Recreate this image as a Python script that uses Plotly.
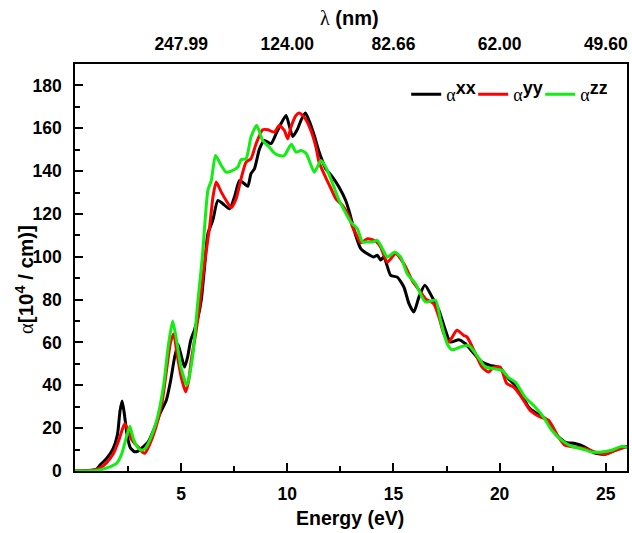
import plotly.graph_objects as go

# ---- data ----
e_xx = [0, 0.6, 1.0, 1.2, 1.5, 1.8, 2.0, 2.12, 2.22, 2.32, 2.45, 2.6, 2.8, 2.95, 3.13, 3.44, 3.7, 4.0, 4.3, 4.5, 4.69, 4.85, 5.0, 5.16, 5.3, 5.45, 5.63, 5.8, 5.95, 6.1, 6.26, 6.49, 6.73, 6.96, 7.28, 7.51, 7.75, 7.98, 8.14, 8.29, 8.45, 8.69, 8.92, 9.23, 9.47, 9.7, 9.94, 10.09, 10.25, 10.49, 10.64, 10.85, 11.05, 11.27, 11.5, 11.81, 12.13, 12.44, 12.75, 12.95, 13.15, 13.46, 13.77, 14.08, 14.24, 14.4, 14.55, 14.87, 15.18, 15.49, 15.73, 15.96, 16.2, 16.48, 16.82, 17.14, 17.45, 17.68, 18.08, 18.39, 18.86, 19.17, 19.56, 19.95, 20.19, 20.42, 20.89, 21.36, 21.75, 22.15, 22.61, 23.08, 23.55, 24.02, 24.49, 24.96, 25.43, 25.9, 26.0]
a_xx = [0, 0.2, 0.8, 3, 6, 10.6, 17, 28, 32.7, 27, 17, 11, 9, 9.2, 10.6, 13.5, 19, 26.8, 33, 42, 53, 59, 54, 48.5, 53, 61, 66, 72, 80, 95, 110.8, 117, 126.3, 124.8, 122.4, 127.9, 135.6, 134.1, 132.9, 138.8, 141, 150.4, 154.3, 152.8, 157.4, 162.1, 166, 161.3, 156.2, 159.8, 163.6, 167.1, 163, 156.6, 148.9, 141.1, 137.2, 132.5, 126.3, 120, 112.3, 103.8, 101.4, 99.9, 100.7, 98.5, 99.9, 91.3, 90.5, 85.9, 78.1, 74.2, 81.2, 86.7, 81.2, 75, 65.7, 60.2, 61.3, 59.4, 54, 50.9, 49.3, 48.5, 46.2, 43.1, 38.5, 29.9, 26.8, 24.5, 17.5, 13.5, 12.8, 11.2, 8.4, 7.8, 9.7, 11.2, 11.3]

e_yy = [0, 0.8, 1.2, 1.5, 1.8, 2.05, 2.25, 2.35, 2.5, 2.65, 2.8, 3.0, 3.15, 3.29, 3.5, 3.8, 4.1, 4.35, 4.5, 4.65, 4.8, 5.0, 5.21, 5.35, 5.48, 5.7, 5.9, 6.1, 6.34, 6.5, 6.65, 6.89, 7.12, 7.36, 7.59, 7.82, 8.06, 8.29, 8.53, 8.84, 9.08, 9.39, 9.62, 9.86, 10.02, 10.17, 10.41, 10.56, 10.8, 11.11, 11.35, 11.5, 11.81, 12.05, 12.29, 12.6, 12.9, 13.07, 13.23, 13.46, 13.77, 14.0, 14.2, 14.4, 14.71, 15.1, 15.49, 15.88, 16.28, 16.51, 16.9, 17.14, 17.37, 17.6, 17.99, 18.31, 18.47, 18.86, 19.17, 19.48, 19.72, 20.03, 20.34, 20.66, 21.0, 21.44, 21.91, 22.3, 22.77, 23.08, 23.55, 24.0, 24.49, 24.96, 25.43, 26.0]
a_yy = [0, 0.2, 1.5, 4, 8, 14, 20, 22, 19, 15, 13, 11, 9, 8.3, 12, 20, 32, 50, 60, 64, 55, 44, 36.9, 42, 52, 65, 79.6, 97, 113.9, 128, 134.9, 130.2, 126.3, 122.9, 127.1, 136.4, 144.2, 145.8, 152.8, 159.3, 159.3, 158.2, 161.3, 159, 155.1, 160.5, 166, 167.1, 165.2, 159, 151.2, 144, 137, 132, 127, 124, 119, 113.9, 110.8, 106.5, 108.4, 108, 107, 104.5, 97.5, 101.4, 96.8, 89, 83.5, 80.4, 78.1, 71.9, 64.1, 60.2, 65.7, 63.3, 62.5, 54.8, 48.5, 46.2, 48.5, 48.5, 40.8, 39.2, 35, 28.3, 25.2, 23.7, 15.9, 12, 11.2, 10.5, 8.9, 7.8, 9.5, 11.5]

e_zz = [0, 1.0, 1.5, 1.96, 2.2, 2.4, 2.58, 2.75, 2.95, 3.13, 3.3, 3.5, 3.8, 4.0, 4.2, 4.39, 4.6, 4.8, 5.0, 5.27, 5.4, 5.56, 5.79, 6.0, 6.26, 6.42, 6.62, 6.89, 7.12, 7.36, 7.67, 7.82, 8.06, 8.29, 8.56, 8.84, 9.15, 9.39, 9.62, 9.86, 10.09, 10.2, 10.41, 10.64, 10.88, 11.03, 11.27, 11.42, 11.58, 11.81, 12.2, 12.44, 12.6, 12.99, 13.3, 13.54, 13.77, 14.0, 14.24, 14.48, 14.71, 15.07, 15.34, 15.65, 16.04, 16.51, 16.98, 17.22, 17.53, 17.76, 18.15, 18.54, 18.93, 19.33, 19.72, 20.11, 20.42, 20.74, 21.2, 21.67, 22.07, 22.46, 22.93, 23.4, 23.86, 24.33, 24.8, 25.27, 25.74, 26.0]
a_zz = [0, 0.2, 1.5, 3.6, 8, 15, 20.9, 15, 11, 9.7, 10.5, 14, 22, 30, 42, 58, 70, 60, 48, 40, 45, 55, 79.5, 100, 131, 135.6, 147.3, 142.6, 139.5, 140, 141.9, 145.3, 145.8, 155.9, 161.3, 154.3, 151.2, 148.4, 147.3, 147.3, 151.2, 152.5, 148.9, 149.6, 148.4, 145, 139.5, 142, 145, 141.9, 132.5, 126.3, 123.2, 116.2, 113.1, 106.9, 106.9, 106.9, 107.7, 103.8, 99.9, 102.2, 99.9, 92.1, 87.4, 78.9, 79.7, 70.3, 59.4, 56.6, 57.9, 58.6, 54, 48.5, 47.8, 47, 43.6, 41.5, 34.5, 29.9, 25.2, 19, 14.3, 11.5, 10.4, 8.9, 8.9, 9.7, 11.5, 11]

x_ticks = [5, 10, 15, 20, 25]
top_labels = ["247.99", "124.00", "82.66", "62.00", "49.60"]
y_ticks = [0, 20, 40, 60, 80, 100, 120, 140, 160, 180]

FONT = "Liberation Sans, Arial, sans-serif"

def lname(s):
    return ('<span style="font-family:Liberation Serif">α</span>'
            '<sup><span style="font-size:18px"><b>' + s + '</b></span></sup>')

fig = go.Figure()
for e, a, c, s in [(e_xx, a_xx, "#000000", "xx"), (e_yy, a_yy, "#ff0000", "yy"), (e_zz, a_zz, "#11ee11", "zz")]:
    fig.add_trace(go.Scatter(x=e, y=a, mode="lines", name=lname(s),
                             line=dict(color=c, width=3, shape="spline", smoothing=0.6)))

# invisible trace for the top axis
fig.add_trace(go.Scatter(x=[0, 26], y=[None, None], xaxis="x2", showlegend=False, hoverinfo="skip"))

axis_common = dict(showgrid=False, zeroline=False, linecolor="black", linewidth=1.5,
                   tickfont=dict(family=FONT, size=17.5, color="black", weight="bold"))

fig.update_layout(
    width=632, height=533,
    margin=dict(l=75, r=3, t=64, b=62),
    plot_bgcolor="white", paper_bgcolor="white",
    xaxis=dict(range=[0, 26], tickmode="array", tickvals=x_ticks, ticks="inside", ticklen=8,
               tickwidth=1.5, tickcolor="black", mirror=True, ticklabelstandoff=6,
               minor=dict(tickmode="linear", tick0=0, dtick=2.5, ticks="inside", ticklen=5,
                          tickwidth=1.5, tickcolor="black"),
               **axis_common),
    xaxis2=dict(range=[0, 26], overlaying="x", side="top", tickmode="array", tickvals=x_ticks,
                ticktext=top_labels, ticks="", showline=False, ticklabelstandoff=10,
                showgrid=False, zeroline=False,
                tickfont=dict(family=FONT, size=17.5, color="black", weight="bold")),
    yaxis=dict(range=[0, 190], tickmode="array", tickvals=y_ticks, ticks="inside", ticklen=8,
               tickwidth=1.5, tickcolor="black", mirror=True, ticklabelstandoff=8,
               minor=dict(tickmode="linear", tick0=0, dtick=10, ticks="inside", ticklen=5,
                          tickwidth=1.5, tickcolor="black"),
               **axis_common),
    legend=dict(orientation="h", x=0.60, y=0.925, xanchor="left", yanchor="middle",
                bgcolor="rgba(0,0,0,0)", entrywidth=22, entrywidthmode="pixels",
                tracegroupgap=0, itemwidth=30,
                font=dict(family=FONT, size=18, color="black")),
    showlegend=True,
)

fig.add_annotation(text="<b>Energy (eV)</b>", xref="paper", yref="paper", x=0.498, y=-0.115,
                   xanchor="center", yanchor="middle", showarrow=False,
                   font=dict(family=FONT, size=19.5, color="black"))
fig.add_annotation(text='<span style="font-family:Liberation Serif">λ</span> <b>(nm)</b>',
                   xref="paper", yref="paper", x=0.498, y=1.113, xanchor="center", yanchor="middle",
                   showarrow=False, font=dict(family=FONT, size=20, color="black"))
fig.add_annotation(text='<span style="font-family:Liberation Serif">α</span><b>[10<sup>4</sup> / cm)]</b>',
                   xref="paper", yref="paper", x=-0.092, y=0.47, xanchor="center", yanchor="middle",
                   textangle=-90, showarrow=False, font=dict(family=FONT, size=20.5, color="black"))

fig.write_html("out.html")
